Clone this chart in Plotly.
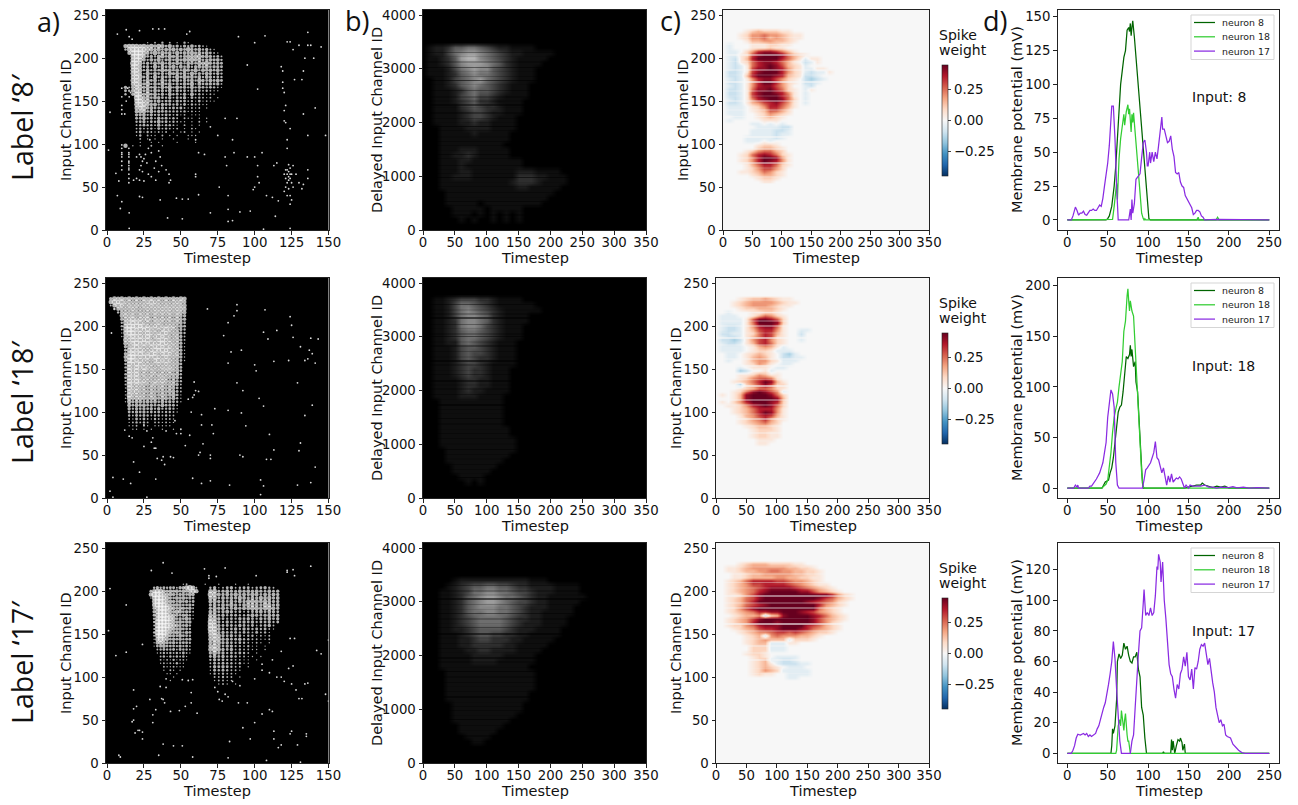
import plotly.graph_objects as go

W, H = 1298, 805
FONT = "DejaVu Sans"
LABEL_FONT = "Open Sans"

# ---------------- panel a: spike density rows (top row first), digits 0-9
a8_t = [10, 12.5, 15, 17.5, 20, 22.5, 25, 27.5, 30, 32.5, 35, 37.5, 40, 42.5, 45, 47.5, 50, 52.5, 55, 57.5, 60, 62.5, 65, 67.5, 70, 72.5, 75, 77.5, 80]
a8_ch = [218, 214, 210, 206, 202, 198, 194, 190, 186, 182, 178, 174, 170, 166, 162, 158, 154, 150, 146, 142, 138, 134, 130, 126, 122, 118, 114, 110, 106, 102, 98]
a8_rows = [
"00000001020302010310000000000",
"07888786868747352536342100000",
"03899988757465746485463521000",
"00699986484756374657564642100",
"00089974536747564576785653420",
"00089863647356475768674565630",
"00099735364736465365476854540",
"00089645273645736463565745540",
"00089736354756463754736564630",
"00089627364537564637454653530",
"00079846273645374756463653430",
"00089637462735463546375464640",
"00079758364746353647264554520",
"05268857463647364536354343210",
"04369747364536253425342321100",
"03059858463526342516232121000",
"00009967465435243514232120100",
"00008978546345253423141211000",
"00008987563544342413221100000",
"00007895644533434212120100000",
"00006774635443332312110000000",
"00005563534343231201110000000",
"00004463425342320211010100000",
"00003452436342321101020100000",
"00002343325233210201010000000",
"00002322314232120102100000000",
"00002413212120101201010000000",
"00001302110201010011100000000",
"00000201010100100010000000000",
"00000100101000010000100000000",
"07010100200100000000000000000",
]
a18_t = [0, 2.5, 5, 7.5, 10, 12.5, 15, 17.5, 20, 22.5, 25, 27.5, 30, 32.5, 35, 37.5, 40, 42.5, 45, 47.5, 50, 52.5, 55]
a18_ch = [236, 232, 228, 224, 220, 216, 212, 208, 204, 200, 196, 192, 188, 184, 180, 176, 172, 168, 164, 160, 156, 152, 148, 144, 140, 136, 132, 128, 124, 120, 116, 112, 108, 104, 100, 96, 92, 88, 84, 80]
a18_rows = [
"00000000000000000000000",
"05878686868686868686870",
"07979686868797868687860",
"02797878787878787878770",
"00368687868787878787870",
"00036868686868787868760",
"00007878687868686868650",
"00005879787968787868650",
"00003889896868786868640",
"00003898989787968786640",
"00002899797978689786530",
"00001899887978797868530",
"00001789897987979687520",
"00000879797968797868520",
"00000778979797897877510",
"00000578978788979787510",
"00000489797879897968510",
"00000589898798789787510",
"00000699878979787868510",
"00000499797868979786410",
"00000397987878787868400",
"00000396979786878786400",
"00000297968778687867400",
"00000397978687786867300",
"00000397968786878676300",
"00000297987868787675300",
"00000297878678686775200",
"00000197877686786764200",
"00000187968677676764200",
"00000197777686686674100",
"00000186877677576563100",
"00000175665656464543100",
"00000064656454464442000",
"00000053545453533431000",
"00000043545343423321000",
"00000032434323323220000",
"00000021424213212210000",
"00000012323202212110000",
"00000011202101111100000",
"00000001101010010010000",
]
a17_t = [27.5, 29.7, 31.9, 34.1, 36.3, 38.5, 40.7, 42.9, 45.1, 47.3, 49.5, 51.7, 53.9, 56.1, 58.3, 60.5, 62.5, 64.5, 66.5, 68,
         70, 72.85, 75.7, 78.55, 81.4, 84.25, 87.1, 89.95, 92.8, 95.65, 98.5, 101.35, 104.2, 107.05, 109.9, 112.75, 115.6, 118.45]
a17_ch = [208, 204, 200, 196, 192, 188, 184, 180, 176, 172, 168, 164, 160, 156, 152, 148, 144, 140, 136, 132, 128, 124, 120, 116, 112, 108, 104, 100, 96, 92]
a17_rows = [
"00000000000120000010001000100100000000",
"00353434425589720000351245234423453200",
"04788656564656870000784565465656546450",
"07998766545546500000986565756576465650",
"01899875465645400000784656576565767560",
"00799866546453400000675546465787676550",
"00799976565445300000564657546776587560",
"00589987646545200000575645656687678650",
"00589986576454200000674565342345646540",
"00489987654553100000774534433465456550",
"00389998745464100000885434354543546450",
"00399987656455000000985354345453445340",
"00299998765453000000995444354342345200",
"00299987656443000000996434535434342100",
"00399976565354000000895544434324231000",
"00289875546443000000797545342331212000",
"00179764545344000000797554453322112000",
"00167654534443000000687554343212101000",
"00145644435342000000796455332311010000",
"00023433424332000000797545232211010000",
"00012323232421000000585534343201000000",
"00002313232310000000464534322110100000",
"00002121312210000000354433221101000000",
"00001212131100000000243433231100000000",
"00000211211100000000254543220100000000",
"00000102101000000000143432210000000000",
"00000011010000000000132322100000000000",
"00000000100000000000022322010000000000",
"00000001000000000000012211000000000000",
"00000000000000000000001210100000000000",
]

# isolated spikes read from the rasters (timestep, channel)
a8_pts = [(10,70),(10,75),(10,80),(10,85),(10,88),(10,90),(10,95),(10,99),(14.8,55),(14.8,60),(14.8,65),(14.8,70),(14.8,72),(14.8,75),(14.8,78),(14.8,80),(14.8,85),(14.8,88),(14.8,90),(14.8,95),
(20,85),(22,88),(23,85),(25,83),(24,80),(26,88),(23,75),(27,78),(22,70),(24,68),(20,60),(18,58),(22,58),(25,57),(28,65),(30,62),(32,72),(35,68),(33,58),(37,75),(36,85),(30,90),(33,80),(40,70),(42,65),(42,55),(43,58),(28,95),(35,92),(29,105),
(120,65),(121,60),(122,70),(122,55),(123,62),(123,68),(124,72),(124,60),(125,65),(125,55),(121,50),(123,48),(126,50),(120,45),(124,40),(122,40),(125,35),(124,30),(128,65),(130,55),(132,48),(136,70),(136,60),(133,53),(126,75),(123,76),(121,70),(122,65),(124,65),(123,58),
(2,137),(1,93),(6,66),(8,57),(7,228),(13,233),(15,225),(17,222),(22,232),(31,234),(35,234),(39,234),(56,231),(54,228),(89,225),(107,226),(100,218),(95,192),(102,164),(118,190),(119,185),(119,172),(119,165),(120,160),(121,145),(120,139),(120,127),(121,125),(124,118),(122,105),(122,95),(115,78),(113,75),(105,90),(100,85),(102,75),(102,62),(103,55),(100,50),(99,47),(108,40),(112,38),(116,34),(114,16),(106,1),(124,2),(97,22),(90,21),(85,11),(82,10),(82,24),(70,20),(62,41),(55,36),(51,36),(47,37),(41,14),(51,13),(24,38),(22,39),(36,35),(10,33),(9,25),(15,20),(15,2),(7,40),(10,145),(10,140),(10,155),(10,165),(15,155),(14,165),(13,150),(16,160),(10,135),(12,135),(122,219),(124,219),(126,210),(130,215),(133,185),(136,230),(136,215),(140,200),(134,200),(132,175),(133,135),(136,110),(141,142),(148,110),(138,215),(145,213),(127,175),(60,105),(62,90),(66,88),(60,65),(60,62),(81,75),(86,90),(88,130),(80,85),(76,50),(82,40),(75,110),(70,120),(80,130),(85,105),(95,85)]
a18_pts = [(68,220),(88,225),(88,218),(86,212),(107,219),(124,211),(125,201),(126,187),(115,195),(106,193),(109,185),(82,204),(79,189),(84,170),(91,172),(82,157),(100,155),(101,148),(113,159),(123,160),(131,176),(137,172),(134,160),(136,162),(139,168),(141,157),(138,186),(143,185),(129,134),(88,134),(92,125),(60,125),(62,124),(55,115),(58,117),(59,120),(59,135),(103,116),(106,107),(139,108),(134,96),(82,102),(91,99),(73,104),(64,97),(57,100),(64,85),(71,85),(72,75),(94,84),(110,74),(131,64),(130,55),(113,56),(108,45),(111,45),(90,50),(92,48),(70,50),(70,46),(63,53),(62,50),(65,63),(53,61),(50,75),(47,75),(56,73),(45,47),(43,48),(38,48),(37,44),(39,39),(34,46),(32,58),(33,58),(25,60),(30,65),(31,70),(27,78),(17,70),(15,72),(12,79),(18,42),(22,30),(4,24),(11,22),(16,17),(33,22),(58,23),(64,17),(70,20),(83,15),(106,14),(104,21),(104,4),(129,15),(138,18),(141,36),(2,8),(4,1),(27,1),(3,192),(5,220),(46,90),(50,80),(25,85),(40,78)]
a17_pts = [(2,203),(13,184),(13,129),(6,125),(1,154),(24,138),(30,224),(38,233),(44,221),(66,226),(69,218),(69,215),(74,217),(80,227),(101,218),(122,222),(122,224),(126,225),(127,218),(138,229),(127,145),(124,145),(123,110),(126,113),(145,127),(142,131),(150,143),(134,92),(132,75),(130,75),(128,85),(125,92),(136,93),(148,80),(150,72),(18,85),(18,63),(20,66),(17,48),(18,50),(19,35),(21,38),(22,38),(24,36),(24,28),(29,74),(31,56),(31,47),(33,62),(36,89),(37,75),(38,74),(39,70),(40,88),(40,98),(43,60),(45,20),(49,61),(51,97),(51,20),(53,66),(55,96),(57,82),(58,7),(57,70),(61,58),(58,97),(35,9),(38,22),(8,9),(9,7),(82,6),(83,25),(89,70),(95,70),(92,41),(100,47),(97,28),(105,57),(110,62),(113,37),(113,28),(116,18),(118,21),(124,34),(125,37),(129,21),(131,1),(135,34),(135,31),(108,3),(112,60),(76,74),(78,72),(80,80),(82,77),(90,90),(85,95),(75,83),(73,88),(100,98),(105,108),(110,105),(115,100),(118,100),(120,95),(105,115),(112,120),(118,130)]

# ---------------- panel b: delayed channels, top row first
b_t = [0, 10, 20, 30, 40, 50, 60, 70, 80, 90, 100, 110, 120, 130, 140, 150, 160, 170, 180, 190, 200, 210, 220, 230, 240, 250, 260, 270, 280, 290, 300]
b_ch = [3800, 3700, 3600, 3500, 3400, 3300, 3200, 3100, 3000, 2900, 2800, 2700, 2600, 2500, 2400, 2300, 2200, 2100, 2000, 1900, 1800, 1700, 1600, 1500, 1400, 1300, 1200, 1100, 1000, 900, 800, 700, 600, 500, 400, 300, 200, 100]
Z = "0000000000000000000000000000000"
b8_rows = [Z, Z, Z, Z,
"0122355665432211110000000000000",
"0122467887654322111110000000000",
"0112358997654321111100000000000",
"0112357888765321111000000000000",
"0111246787754321110000000000000",
"0111235676654321110000000000000",
"0011245678654321110000000000000",
"0011235676543211100000000000000",
"0011123565543211100000000000000",
"0011124564432111100000000000000",
"0011123453321111000000000000000",
"0011113454332111000000000000000",
"0011112344322111000000000000000",
"0011112344321110000000000000000",
"0011112232211110000000000000000",
"0001111222211110000000000000000",
"0001111121111100000000000000000",
"0001111111111100000000000000000",
"0001111111111000000000000000000",
"0001112221111100000000000000000",
"0001122321111100000000000000000",
"0001112211111111000000000000000",
"0001112111111111000000000000000",
"0001112211111112221111000000000",
"0001122211111113332211100000000",
"0001111111111123332111100000000",
"0001111111111112211111000000000",
"0000111111111111111110000000000",
"0000111111111111111100000000000",
"0000111110111111111000000000000",
"0000011111011111000000000000000",
"0000011101010101000000000000000",
"0000001010010101000000000000000",
Z]
b18_rows = [Z,
"0011234443321111000000000000000",
"0011246654321111110000000000000",
"0011246765432111111000000000000",
"0011246776532111100000000000000",
"0011236776532111100000000000000",
"0011236776432111000000000000000",
"0011235665432111000000000000000",
"0011235665432111000000000000000",
"0011225654321110000000000000000",
"0011124554321110000000000000000",
"0011124544321110000000000000000",
"0011124543321110000000000000000",
"0011123443211110000000000000000",
"0011123433211100000000000000000",
"0011123433211100000000000000000",
"0011112332211100000000000000000",
"0011112332211100000000000000000",
"0011112322111100000000000000000",
"0011112221111000000000000000000",
"0001111111111000000000000000000",
"0001111111111000000000000000000",
"0001111111111000000000000000000",
"0001111111111000000000000000000",
"0001111111111000000000000000000",
"0001111111111100000000000000000",
"0001111111111100000000000000000",
"0001111111111110000000000000000",
"0001111111111110000000000000000",
"0000111111111110000000000000000",
"0000111111111100000000000000000",
"0000111111111000000000000000000",
"0000011111110000000000000000000",
"0000011111100000000000000000000",
"0000001111000000000000000000000",
"0000000101000000000000000000000",
Z, Z]
b17_rows = [Z, Z, Z, Z,
"0000012222222222211100000000000",
"0000123455665543322221111000000",
"0001123466776654432221111000000",
"0001123567887665432211111100000",
"0001123567887654432211111000000",
"0001123567776654322211110000000",
"0001123566776654322111110000000",
"0001123456666543322111100000000",
"0001123456666543222111100000000",
"0001122345555432221111000000000",
"0001112345544332211111000000000",
"0001112234433322111110000000000",
"0001112233333221111100000000000",
"0001111223322221111000000000000",
"0001111122222111110000000000000",
"0001111122221111110000000000000",
"0001111111111111100000000000000",
"0000111111111111110000000000000",
"0000111111111111110000000000000",
"0000111111111111110000000000000",
"0000111111111111110000000000000",
"0000111111111111100000000000000",
"0000111111111111100000000000000",
"0000011111111111000000000000000",
"0000011111111111000000000000000",
"0000011111111110000000000000000",
"0000011111111100000000000000000",
"0000001111111000000000000000000",
"0000001111110000000000000000000",
"0000000111100000000000000000000",
"0000000011000000000000000000000",
Z, Z, Z]
# thin dim rows seen in the delayed rasters, one digit per 25 channels from 3800 downward
b_streak_ch = [3800 - 25 * i for i in range(152)]
b8_streak = "00000000000000000000300100020004001000200500100030000200100401000300020010050020000100300200010040020000300100200500010020003000100400200010030010002000400100020003001000"
b18_streak = "00200100400010020050000300100020400010030002000100500200010030000400100200030001000500200100040002000100300020001000400020010003000200100500010002000300010000200100"
b17_streak = "00000000000000001000300020010050002000100400020010030000500100020003001000400200010050002000300100020004000100200300010050002000100030002000100040002000100200010000"
# thin faded rows seen in the weight maps, one digit per 2 channels from 236 downward
c_streak_ch = [236 - 2 * i for i in range(96)]
c8_streak = "0010002000300100400020000300100050000200100300002000400100020000500010030000200400100002000300"
c18_streak = "0002000100400002003000100500020001000300040000100200050010000300200001004000200030000100200000"
c17_streak = "0000100020000300100004000200300000100500020000100030002000400001002000300001000200000100020000"

# ---------------- panel c: spike weights; 1-9 = +0.05 steps, a-e = -0.05 steps
c_t = [0, 10, 20, 30, 40, 50, 60, 70, 80, 90, 100, 110, 120, 130, 140, 150, 160, 170, 180, 190, 200, 210, 220, 230, 240, 250]
c8_ch = [236, 232, 228, 224, 220, 216, 212, 208, 204, 200, 196, 192, 188, 184, 180, 176, 172, 168, 164, 160, 156, 152, 148, 144, 140, 136, 132, 128, 124, 120, 116, 112, 108, 104, 100, 96, 92, 88, 84, 80, 76, 72, 68, 64, 60, 56]
c8_rows = [
"00000000000000000000000000",
"00001232221100000000000000",
"00012445443211000000000000",
"00012445343211000000000000",
"00001334433210000000000000",
"0a000111221100000000000000",
"0a000111211000000000000000",
"0aa02478875310000000000000",
"0aa12689998532100000000000",
"0ab13799997531a11000000000",
"0ab12578875310ba1000000000",
"0aba1578986321a00000000000",
"0aba1688987421aa1100000000",
"0bba1689997421abaa10000000",
"0bba3799987321bba000000000",
"0aba1478864210bcba00000000",
"0bba1479974210bba000000000",
"0aba1478864200ab0000000000",
"0bba1588975210a10000000000",
"0bba1689987410a00000000000",
"0bba1689997510a00000000000",
"0aba1478998520a00000000000",
"0bba1346786410a00000000000",
"0aaa0124775310000000000000",
"0aaa0123664200000000000000",
"0aaa0012432100000000000000",
"00aa0012321000000000000000",
"0a000001110000000000000000",
"00000aa0a0a000000000000000",
"000000aaaabb00000000000000",
"00000aaaabba00000000000000",
"00000aaaabaa00000000000000",
"0000aaaaaba000000000000000",
"0000aaa0a00000000000000000",
"00000012210000000000000000",
"00000023321000000000000000",
"00001245532000000000000000",
"00012578752100000000000000",
"00012479984100000000000000",
"00012479874100000000000000",
"00001357752100000000000000",
"00001246642000000000000000",
"00011235421000000000000000",
"00000123321000000000000000",
"00000012210000000000000000",
"00000001100000000000000000",
]
c18_ch = c8_ch
c18_rows = [
"00000000000000000000000000",
"00001233432110000000000000",
"00012344443211000000000000",
"00012344432110000000000000",
"00001223332100000000000000",
"00a00011221000000000000000",
"0aaa0013542100000000000000",
"0aaaa169986200000000000000",
"0aaaa159998200000000000000",
"0abba147885100000000000000",
"0abba136774100aa0000000000",
"0bbaa125763100b00000000000",
"0abba135762100a00000000000",
"0bbcb146742100a00000000000",
"0abba136752100000000000000",
"0aaaa013431a00000000000000",
"0aaaa01221aaa0000000000000",
"00aa0123210bca000000000000",
"00aa0134310bbaa00000000000",
"00a00134421aaa000000000000",
"00000124310aa0000000000000",
"0000a01110aa00000000000000",
"0000cb001a0000000000000000",
"00001124311000000000000000",
"00001245541000000000000000",
"00012357983100000000000000",
"0000c246862200000000000000",
"00001235542100000000000000",
"00012589864a00000000000000",
"01013899985200000000000000",
"00013899998300000000000000",
"01024799987200000000000000",
"00112478985200000000000000",
"00012357774100000000000000",
"00012357984100000000000000",
"00001346763100000000000000",
"00001245742100000000000000",
"00001234532000000000000000",
"00000123321000000000000000",
"00000012221000000000000000",
"00000012211000000000000000",
"00000012211000000000000000",
"00000001110000000000000000",
"00000001100000000000000000",
"00000000000000000000000000",
"00000000000000000000000000",
]
c17_ch = [236, 232, 228, 224, 220, 216, 212, 208, 204, 200, 196, 192, 188, 184, 180, 176, 172, 168, 164, 160, 156, 152, 148, 144, 140, 136, 132, 128, 124, 120, 116, 112, 108, 104, 100, 96]
c17_rows = [
"00000000000000000000000000",
"00001233322221100000000000",
"00112344444433221000000000",
"00112334455443322100000000",
"00011233444443322100000000",
"00011233334433221100000000",
"00123577776654432100000000",
"00123466777765432110000000",
"00123456788887654321000000",
"00123457899999886432100000",
"00112468999999999997421000",
"00123568999999999865321000",
"00123579999999987654210000",
"00123567899999999743210000",
"00124689999999999532100000",
"00123457788999876432100000",
"00012334b23899998753210000",
"00123468999999998643210000",
"00123479998999998642100000",
"00122457888999976532100000",
"00012346778999875432100000",
"00001234456656543221000000",
"00000123a45444332100000000",
"000001234333a2221000000000",
"000001233aaa11000000000000",
"000000222aaa00000000000000",
"000000222aaa00000000000000",
"00000122100000000000000000",
"0000001210aaaa000000000000",
"000000123aabba000000000000",
"0000001231abbbaa0000000000",
"000000123210aaa00000000000",
"00000012432aaaaa0000000000",
"000000121100aaaa0000000000",
"000000000000aa000000000000",
"00000000000000000000000000",
]

# ---------------- panel d: membrane potentials
d8_n8_t = [0, 48, 50, 52, 55, 58, 60, 62, 64, 66, 68, 70, 72, 74, 76, 77, 78, 79, 80, 81, 83, 85, 87, 89, 91, 93, 95, 97, 99, 101, 103, 250]
d8_n8_v = [0, 0, 1, 3, 10, 25, 40, 60, 88, 100, 110, 120, 125, 140, 142, 139, 145, 136, 142, 147, 135, 120, 105, 90, 75, 55, 40, 25, 10, 1, 0, 0]
d8_n18_t = [0, 55, 56, 58, 60, 61, 62, 64, 66, 68, 69, 70, 71, 73, 75, 76, 77, 78, 79, 80, 81, 82, 84, 86, 88, 90, 92, 94, 95, 96, 97, 160, 162, 163, 184, 186, 188, 250]
d8_n18_v = [0, 0, 0.5, 10, 22, 27, 15, 45, 60, 70, 72, 78, 70, 80, 85, 78, 82, 68, 65, 78, 72, 79, 62, 48, 35, 20, 5, 1, 0, 1, 0, 0, 2, 0, 0, 2, 0, 0]
d8_n17_t = [0, 5, 7, 9, 10, 12, 14, 16, 18, 20, 22, 24, 26, 28, 30, 32, 34, 36, 38, 40, 42, 44, 46, 48, 50, 52, 54, 55, 57, 59, 61, 63, 76, 78, 79, 80, 81, 83, 85, 88, 90, 92, 94, 96, 98, 99, 100, 102, 103, 105, 107, 109, 111, 113, 115, 117, 118, 120, 122, 124, 126, 128, 130, 132, 134, 136, 138, 140, 142, 144, 146, 148, 150, 152, 154, 156, 158, 160, 162, 164, 166, 168, 170, 185, 195, 210, 250]
d8_n17_v = [0, 0, 3, 7, 9.5, 7, 3.5, 5, 5, 6.5, 4, 3.5, 5.5, 7, 7, 8, 7, 7, 9, 11, 10, 16, 25, 32, 42, 55, 75, 84, 84, 60, 25, 0, 0, 8, 0, 15, 5, 12, 30, 33, 34, 46, 57, 59, 50, 40, 40, 50, 42, 50, 43, 50, 45, 55, 65, 76, 67, 67, 62, 57, 58, 62, 52, 47, 35, 34, 35, 28, 25, 24, 18, 16, 14, 12, 9, 4, 5, 7, 7, 6, 3, 2, 0, 0.5, 0.5, 0.5, 0]

d18_n8_t = [0, 43, 45, 47, 49, 51, 53, 55, 57, 59, 61, 63, 65, 67, 69, 71, 73, 75, 77, 78, 79, 80, 82, 84, 85, 87, 89, 91, 93, 94, 145, 150, 155, 160, 165, 167, 170, 175, 180, 185, 190, 195, 200, 250]
d18_n8_v = [0, 0, 3, 6, 7, 8, 15, 20, 30, 45, 60, 75, 80, 82, 95, 115, 130, 128, 132, 141, 130, 137, 120, 125, 105, 95, 70, 35, 5, 0, 0, 1, 2, 3, 3, 5, 3, 2, 0.5, 2, 1, 2, 0, 0]
d18_n18_t = [0, 42, 44, 46, 48, 50, 52, 54, 56, 58, 60, 62, 64, 66, 68, 70, 72, 74, 75, 76, 77, 78, 80, 82, 84, 86, 88, 90, 92, 94, 96, 250]
d18_n18_v = [0, 0, 1, 3, 4, 8, 20, 35, 55, 70, 78, 85, 100, 112, 125, 155, 165, 190, 197, 185, 175, 185, 175, 170, 140, 110, 75, 40, 15, 1, 0, 0]
d18_n17_t = [0, 8, 10, 12, 13, 14, 26, 28, 30, 32, 34, 36, 38, 40, 42, 44, 46, 48, 50, 52, 54, 56, 58, 60, 62, 64, 93, 95, 97, 99, 101, 103, 105, 107, 109, 111, 113, 115, 117, 119, 121, 123, 125, 127, 129, 131, 133, 135, 137, 139, 141, 143, 145, 147, 150, 152, 155, 160, 165, 170, 175, 180, 185, 190, 200, 205, 210, 218, 225, 235, 250]
d18_n17_v = [0, 0, 3, 1, 3, 0, 0, 2, 2, 4, 6, 9, 12, 15, 20, 25, 35, 45, 70, 85, 97, 93, 80, 25, 3, 0, 0, 8, 18, 20, 22, 25, 30, 35, 46, 30, 28, 20, 15, 20, 10, 3, 12, 6, 14, 6, 8, 10, 9, 11, 9, 5, 0, 3, 0, 3, 2, 2, 2, 3, 1, 1, 0, 1, 0.5, 1.5, 0.3, 1, 0, 0.5, 0]

d17_n8_t = [0, 54, 55, 56, 57, 59, 61, 62, 64, 66, 68, 70, 72, 74, 76, 78, 80, 82, 84, 86, 88, 90, 92, 94, 96, 98, 118, 119, 120, 128, 129, 130, 131, 133, 135, 137, 139, 140, 142, 143, 145, 146, 250]
d17_n8_v = [0, 0, 5, 16, 13, 18, 35, 60, 65, 62, 64, 72, 68, 70, 64, 60, 59, 63, 63, 66, 55, 50, 30, 25, 10, 0, 0, 1, 0, 0, 9, 2, 8, 0, 5, 9, 8, 10, 7, 2, 6, 0, 0]
d17_n18_t = [0, 60, 61, 62, 63, 65, 66, 67, 69, 70, 71, 72, 74, 75, 76, 78, 250]
d17_n18_v = [0, 0, 2, 12, 18, 22, 18, 28, 18, 15, 22, 26, 12, 8, 8, 0, 0]
d17_n17_t = [0, 5, 7, 9, 11, 13, 16, 20, 22, 24, 26, 28, 30, 32, 35, 37, 39, 41, 43, 45, 47, 49, 51, 53, 55, 57, 59, 61, 63, 65, 67, 78, 80, 82, 84, 86, 88, 90, 92, 94, 95, 97, 99, 101, 103, 105, 107, 109, 111, 112, 113, 115, 116, 118, 120, 122, 124, 126, 128, 130, 132, 134, 136, 138, 140, 142, 144, 146, 148, 150, 152, 154, 156, 158, 160, 162, 164, 166, 168, 170, 172, 174, 176, 178, 180, 182, 184, 186, 188, 190, 192, 194, 196, 198, 202, 205, 208, 212, 216, 220, 250]
d17_n17_v = [0, 0, 2, 5, 10, 12.5, 12, 13, 12, 13, 11, 12, 11, 12, 13, 16, 18, 22, 27, 30, 33, 38, 45, 52, 60, 73, 62, 42, 22, 8, 0, 0, 8, 12, 30, 52, 65, 80, 82, 98, 107, 90, 92, 90, 95, 90, 92, 103, 122, 120, 130, 125, 112, 125, 100, 88, 75, 58, 52, 50, 42, 36, 45, 42, 52, 55, 63, 57, 66, 50, 48, 55, 42, 56, 55, 60, 68, 71, 70, 72, 65, 58, 62, 52, 46, 40, 30, 25, 20, 22, 18, 19, 12, 11, 10, 6, 4, 2, 0.5, 0, 0]

neuron_names = ["neuron 8", "neuron 18", "neuron 17"]
neuron_colors = ["#006400", "#32CD32", "#8A2BE2"]
input_labels = ["Input: 8", "Input: 18", "Input: 17"]
row_labels = ["Label ‘8′", "Label ‘18′", "Label ‘17′"]
panel_letters = ["a)", "b)", "c)", "d)"]

WEIGHT_CODE = {"a": -1, "b": -2, "c": -3, "d": -4, "e": -5}


def decode_grey(rows, n):
    return [[int(c) for c in r.ljust(n, "0")[:n]] for r in rows]


def decode_weight(rows, n):
    out = []
    for r in rows:
        cells = r.ljust(n, "0")[:n]
        out.append([0.05 * (WEIGHT_CODE[c] if c in WEIGHT_CODE else int(c)) for c in cells])
    return out


def decode_streak(text, n):
    return [[int(c), int(c)] for c in text.ljust(n, "0")[:n]]


# pixel boxes of the axes: (left, right, top, bottom)
ROW_Y = [(10, 230), (278, 498), (543, 763)]
COL_A = (106, 328.5)
COL_B = (423, 646)
COL_C = [(723, 929), (716, 929), (716, 929)]
COL_D = (1057.7, 1279.3)
D_YRANGE = [[-7.4, 154.9], [-9.8, 207.6], [-6.3, 137.4]]
D_YTICKS = [[0, 25, 50, 75, 100, 125, 150], [0, 50, 100, 150, 200], [0, 20, 40, 60, 80, 100, 120]]
YTITLE_X = {"a": [66, 66, 66], "b": [377, 377, 377], "c": [683, 676, 676], "d": [1017, 1017, 1017]}

fig = go.Figure()
layout = {}
axis_count = 0
TICK = dict(size=13.3, family=FONT, color="#111")
TITLE = dict(size=14.5, family=FONT, color="#111")
annotations = []


def paper_text(px, py, text, font, xanchor="center", angle=0, align="center"):
    annotations.append(dict(x=px / W, y=1 - py / H, xref="paper", yref="paper", text=text, showarrow=False, xanchor=xanchor,
                            yanchor="middle", textangle=angle, align=align, font=font))


def add_axes(box_x, box_y, xr, yr, xt, yt, ytitle, ytitle_x):
    global axis_count
    axis_count += 1
    s = "" if axis_count == 1 else str(axis_count)
    common = dict(showgrid=False, zeroline=False, showline=True, mirror=True, linecolor="#222", linewidth=1,
                  ticks="outside", ticklen=3.5, tickwidth=1, tickcolor="#222", tickfont=TICK, automargin=False)
    layout["xaxis" + s] = dict(common, domain=[box_x[0] / W, box_x[1] / W], range=xr, tickmode="array", tickvals=xt, anchor="y" + s, ticklabelstandoff=-3)
    layout["yaxis" + s] = dict(common, domain=[1 - box_y[1] / H, 1 - box_y[0] / H], range=yr, tickmode="array", tickvals=yt, anchor="x" + s)
    paper_text((box_x[0] + box_x[1]) / 2, box_y[1] + 27.5, "Timestep", TITLE)
    paper_text(ytitle_x, (box_y[0] + box_y[1]) / 2, ytitle, TITLE, angle=-90)
    return "x" + s, "y" + s


B_GREYS = [[0, "#000000"], [1 / 9, "#0e0e0e"], [2 / 9, "#1c1c1c"], [3 / 9, "#2e2e2e"], [4 / 9, "#434343"], [5 / 9, "#585858"], [6 / 9, "#6e6e6e"], [7 / 9, "#868686"], [8 / 9, "#9c9c9c"], [1, "#b4b4b4"]]
DIM = [[0, "rgba(0,0,0,0)"], [1, "rgba(0,0,0,0.55)"]]
FADE = [[0, "rgba(247,247,247,0)"], [1, "rgba(247,247,247,0.6)"]]

grids_a = [(a8_t, a8_ch, a8_rows, a8_pts), (a18_t, a18_ch, a18_rows, a18_pts), (a17_t, a17_ch, a17_rows, a17_pts)]
grids_b = [(b8_rows, b8_streak), (b18_rows, b18_streak), (b17_rows, b17_streak)]
grids_c = [(c8_ch, c8_rows, c8_streak), (c18_ch, c18_rows, c18_streak), (c17_ch, c17_rows, c17_streak)]
grids_d = [
    [(d8_n8_t, d8_n8_v), (d8_n18_t, d8_n18_v), (d8_n17_t, d8_n17_v)],
    [(d18_n8_t, d18_n8_v), (d18_n18_t, d18_n18_v), (d18_n17_t, d18_n17_v)],
    [(d17_n8_t, d17_n8_v), (d17_n18_t, d17_n18_v), (d17_n17_t, d17_n17_v)],
]
shapes = []
LEG_FONT = dict(size=9.4, family=FONT, color="#222")

for row in range(3):
    ybox = ROW_Y[row]
    # a: raster; each density cell is drawn as a dot sized by its density
    t, ch, rows, pts = grids_a[row]
    xa, ya = add_axes(COL_A, ybox, [-0.7, 150], [0, 256], [0, 25, 50, 75, 100, 125, 150], [0, 50, 100, 150, 200, 250], "Input Channel ID", YTITLE_X["a"][row])
    dens = decode_grey(rows, len(t))
    cell_x, cell_y, cell_s = [], [], []
    for i, c in enumerate(ch):
        for j, tj in enumerate(t):
            if dens[i][j] > 0:
                cell_x.append(tj)
                cell_y.append(c)
                cell_s.append(0.9 + 0.5 * dens[i][j])
    fig.add_trace(go.Scatter(x=cell_x, y=cell_y, mode="markers", marker=dict(color="#ffffff", size=cell_s, line=dict(width=0)), showlegend=False, xaxis=xa, yaxis=ya, hoverinfo="skip"))
    fig.add_trace(go.Scatter(x=[p[0] for p in pts], y=[p[1] for p in pts], mode="markers", marker=dict(color="#d8d8d8", size=1.8, line=dict(width=0)), showlegend=False, xaxis=xa, yaxis=ya, hoverinfo="skip"))
    # b: delayed raster
    xb, yb = add_axes(COL_B, ybox, [0, 350], [0, 4093], [0, 50, 100, 150, 200, 250, 300, 350], [0, 1000, 2000, 3000, 4000], "Delayed Input Channel ID", YTITLE_X["b"][row])
    b_rows, b_streak = grids_b[row]
    fig.add_trace(go.Heatmap(x=b_t, y=b_ch, z=decode_grey(b_rows, len(b_t)), zmin=0, zmax=9, colorscale=B_GREYS, showscale=False, zsmooth="best", xaxis=xb, yaxis=yb, hoverinfo="skip"))
    fig.add_trace(go.Heatmap(x=[0, 350], y=b_streak_ch, z=decode_streak(b_streak, len(b_streak_ch)), zmin=0, zmax=5, colorscale=DIM, showscale=False, zsmooth=False, xaxis=xb, yaxis=yb, hoverinfo="skip"))
    # c: weights
    ch_c, rows_c, c_streak = grids_c[row]
    xc, yc = add_axes(COL_C[row], ybox, [0, 350], [0, 256], [0, 50, 100, 150, 200, 250, 300, 350], [0, 50, 100, 150, 200, 250], "Input Channel ID", YTITLE_X["c"][row])
    cb_top = [65, 332.7, 597.7][row]
    fig.add_trace(go.Heatmap(x=c_t, y=ch_c, z=decode_weight(rows_c, len(c_t)), zmin=-0.45, zmax=0.45, colorscale="RdBu_r", zsmooth="best", xaxis=xc, yaxis=yc, hoverinfo="skip",
                             colorbar=dict(x=941.7 / W, xanchor="left", y=1 - (cb_top + 111) / H, yanchor="bottom", len=111, lenmode="pixels", thickness=6, thicknessmode="pixels",
                                           xpad=0, ypad=0, outlinewidth=0.6, outlinecolor="#222", ticks="outside", ticklen=3.5, tickwidth=1, tickfont=TICK,
                                           tickmode="array", tickvals=[-0.25, 0, 0.25], ticktext=["−0.25", "0.00", "0.25"])))
    fig.add_trace(go.Heatmap(x=[0, 350], y=c_streak_ch, z=decode_streak(c_streak, len(c_streak_ch)), zmin=0, zmax=5, colorscale=FADE, showscale=False, zsmooth=False, xaxis=xc, yaxis=yc, hoverinfo="skip"))
    paper_text(937, cb_top - 30, "Spike", dict(size=14, family=FONT, color="#111"), xanchor="left")
    paper_text(937, cb_top - 15, "weight", dict(size=14, family=FONT, color="#111"), xanchor="left")
    # d: potentials
    xd, yd = add_axes(COL_D, ybox, [-11.9, 262.4], D_YRANGE[row], [0, 50, 100, 150, 200, 250], D_YTICKS[row], "Membrane potential (mV)", YTITLE_X["d"][row])
    leg_top = [15, 283, 548][row]
    shapes.append(dict(type="rect", xref="paper", yref="paper", x0=1191 / W, x1=1274 / W, y0=1 - (leg_top + 44.5) / H, y1=1 - leg_top / H, fillcolor="rgba(255,255,255,0.85)", line=dict(color="#d5d5d5", width=1)))
    for k in range(3):
        tt, vv = grids_d[row][k]
        fig.add_trace(go.Scatter(x=tt, y=vv, mode="lines", name=neuron_names[k], line=dict(color=neuron_colors[k], width=1.25), xaxis=xd, yaxis=yd, showlegend=False, hoverinfo="skip"))
        yk = leg_top + 7.5 + 14.3 * k
        shapes.append(dict(type="line", xref="paper", yref="paper", x0=1194 / W, x1=1215 / W, y0=1 - yk / H, y1=1 - yk / H, line=dict(color=neuron_colors[k], width=1.25)))
        paper_text(1220, yk, neuron_names[k], LEG_FONT, xanchor="left")
    paper_text(1190, [97, 366, 631][row], input_labels[row], dict(size=14, family=FONT, color="#111"), xanchor="left")
    paper_text(22, [127, 402, 662][row], row_labels[row], dict(size=28.5, family=LABEL_FONT, color="#111"), angle=-90)
    # panel backgrounds sit below the heatmaps
    for (xn, yn, bgc) in [(xa, ya, "#000"), (xb, yb, "#000"), (xc, yc, "#f7f7f7")]:
        shapes.append(dict(type="rect", xref=xn + " domain", yref=yn + " domain", x0=0, x1=1, y0=0, y1=1, fillcolor=bgc, line=dict(width=0), layer="below"))

for txt, px, py in zip(panel_letters, [48, 357, 670, 995], [22, 20, 20, 20]):
    paper_text(px, py, txt, dict(size=27, family=LABEL_FONT, color="#111"))

fig.update_layout(width=W, height=H, margin=dict(l=0, r=0, t=0, b=0), paper_bgcolor="white", plot_bgcolor="rgba(0,0,0,0)",
                  showlegend=False, shapes=shapes, annotations=annotations, **layout)
fig.write_html("out.html", post_script="document.body.style.margin='0';", config={"displayModeBar": False})
